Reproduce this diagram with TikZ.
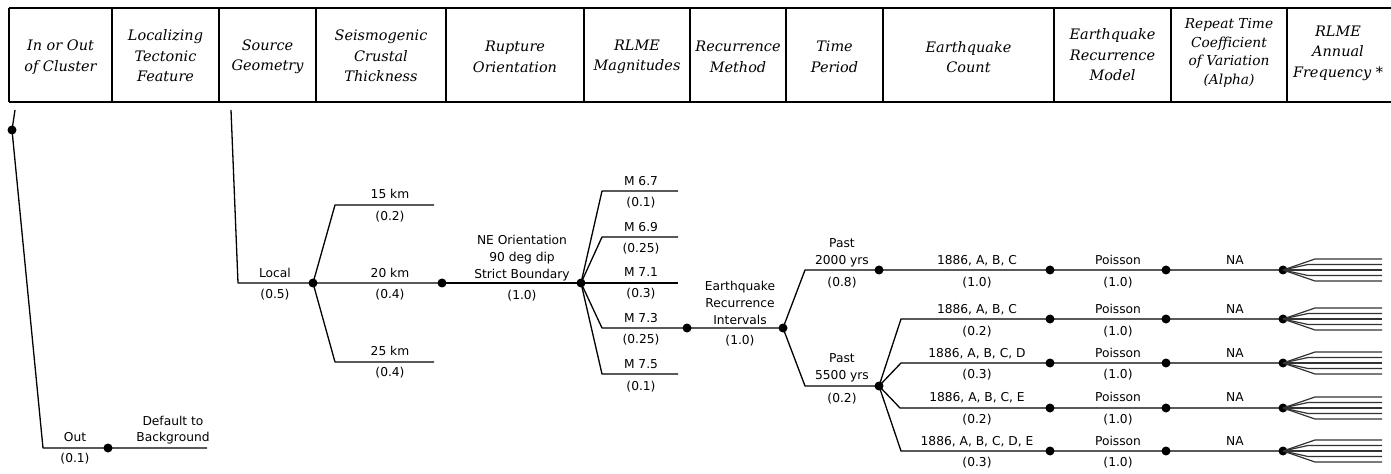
\documentclass[tikz,border=0pt]{standalone}
\usepackage{fontspec}
\setmainfont{DejaVu Serif}
\newfontfamily\lblfont{DejaVu Sans}
\begin{document}
\begin{tikzpicture}[x=1bp,y=-1bp,
  tbl/.style={line width=1.3bp},
  hdr/.style={font=\itshape\fontsize{14.5}{20.5}\selectfont, align=center, inner sep=0},
  br/.style={line width=1.3bp, line join=round},
  fan/.style={line width=1.2bp, draw=black!80},
  dotn/.style={circle, fill=black, inner sep=0, minimum size=9bp},
  lab/.style={font=\lblfont\fontsize{12.3}{16.8}\selectfont, inner sep=0, align=center, text height=9bp, text depth=2.5bp},
  mlab/.style={font=\lblfont\fontsize{12.3}{16.8}\selectfont, inner sep=0, align=center}]
\useasboundingbox (0,0) rectangle (1391,474);
% ---------- header table ----------
\draw[tbl, line width=1.6bp] (9,8) -- (1391,8);
\draw[tbl, line width=1.6bp] (9,102) -- (1391,102);
\foreach \cx in {9,112,219,316,446,584,690,786,883,1054,1171,1287}
  \draw[tbl] (\cx,8) -- (\cx,102);
\node[hdr] (h1) at (60.5,57) {In or Out\\of Cluster};
\node[hdr] (h2) at (165.5,56) {Localizing\\Tectonic\\Feature};
\node[hdr] (h3) at (267.5,57) {Source\\Geometry};
\node[hdr] (h4) at (381,56) {Seismogenic\\Crustal\\Thickness};
\node[hdr] (h5) at (515,57) {Rupture\\Orientation};
\node[hdr] (h6) at (637,57) {RLME\\Magnitudes};
\node[hdr] (h7) at (738,57) {Recurrence\\Method};
\node[hdr] (h8) at (834.5,57) {Time\\Period};
\node[hdr] (h9) at (968.5,57) {Earthquake\\Count};
\node[hdr] (h10) at (1112.5,55) {Earthquake\\Recurrence\\Model};
\node[hdr, font=\itshape\fontsize{13.8}{18.5}\selectfont] (h11) at (1229,53) {Repeat Time\\Coefficient\\of Variation\\(Alpha)};
\node[hdr] (h12) at (1338,53) {RLME\\Annual\\Frequency *};
% ---------- dots ----------
\node[dotn] (root) at (12,130) {};
\node[dotn] (outd) at (108,448) {};
\node[dotn] (locd) at (313,283) {};
\node[dotn] (km20) at (442,283) {};
\node[dotn] (ned) at (581,283) {};
\node[dotn] (m73) at (687,328) {};
\node[dotn] (eri) at (783,328) {};
\node[dotn] (p2000) at (879,270) {};
\node[dotn] (p5500) at (879,386) {};
\foreach \i/\yy in {1/270,2/319,3/363,4/408,5/451} {
  \node[dotn] (c\i) at (1050,\yy) {};
  \node[dotn] (q\i) at (1166,\yy) {};
  \node[dotn] (n\i) at (1283,\yy) {};
}
% ---------- free-end coordinates ----------
\coordinate (rtop) at (15,110);
\coordinate (outc) at (43,448);
\coordinate (outend) at (207,448);
\coordinate (ltop) at (231,110);
\coordinate (locc) at (238,283);
\coordinate (k15a) at (335,205); \coordinate (k15b) at (434,205);
\coordinate (k25a) at (335,362); \coordinate (k25b) at (434,362);
\coordinate (m67a) at (602,191); \coordinate (m67b) at (678,191);
\coordinate (m69a) at (602,237); \coordinate (m69b) at (678,237);
\coordinate (m71b) at (678,283);
\coordinate (m73a) at (602,328);
\coordinate (m75a) at (602,374); \coordinate (m75b) at (678,374);
\coordinate (p2a) at (805,270);
\coordinate (p5a) at (805,386);
\coordinate (r2a) at (901,319);
\coordinate (r3a) at (901,363);
\coordinate (r4a) at (900,408);
\coordinate (r5a) at (901,451);
% ---------- branches ----------
\draw[br] (rtop) -- (root.center) -- (outc) -- (outend);
\draw[br] (ltop) -- (locc) -- (km20.center);
\draw[br] (locd.center) -- (k15a) -- (k15b);
\draw[br] (locd.center) -- (k25a) -- (k25b);
\draw[br] (km20.center) -- (ned.center);
\draw[br] (ned.center) -- (m71b);
\draw[br] (ned.center) -- (m67a) -- (m67b);
\draw[br] (ned.center) -- (m69a) -- (m69b);
\draw[br] (ned.center) -- (m73a) -- (m73.center) -- (eri.center);
\draw[br] (ned.center) -- (m75a) -- (m75b);
\draw[br] (eri.center) -- (p2a) -- (p2000.center) -- (c1.center) -- (q1.center) -- (n1.center);
\draw[br] (eri.center) -- (p5a) -- (p5500.center);
\draw[br] (p5500.center) -- (r2a) -- (c2.center) -- (q2.center) -- (n2.center);
\draw[br] (p5500.center) -- (r3a) -- (c3.center) -- (q3.center) -- (n3.center);
\draw[br] (p5500.center) -- (r4a) -- (c4.center) -- (q4.center) -- (n4.center);
\draw[br] (p5500.center) -- (r5a) -- (c5.center) -- (q5.center) -- (n5.center);
% ---------- fans ----------
\foreach \i in {1,...,5} {
  \foreach \o/\bx in {-11/32,-5.5/25,0/20,5.5/25,11/32}
    \draw[fan] (n\i.center) -- ++(\bx,\o) -- ++(99-\bx,0);
}
% ---------- labels ----------
\node[lab] (lout) at (75,438) {Out};
\node[lab] (pout) at (75,459) {(0.1)};
\node[mlab] (ldef) at (173,430) {Default to\\Background};
\node[lab] (lloc) at (275,274) {Local};
\node[lab] (ploc) at (275,295) {(0.5)};
\node[lab] (l15) at (390,195) {15 km};
\node[lab] (p15) at (390,217) {(0.2)};
\node[lab] (l20) at (390,274) {20 km};
\node[lab] (p20) at (390,295) {(0.4)};
\node[lab] (l25) at (390,352) {25 km};
\node[lab] (p25) at (390,373) {(0.4)};
\node[mlab] (lne) at (522,258) {NE Orientation\\90 deg dip\\Strict Boundary};
\node[lab] (pne) at (522,296) {(1.0)};
\node[lab] (l67) at (641,182) {M 6.7};
\node[lab] (p67) at (641,203) {(0.1)};
\node[lab] (l69) at (641,228) {M 6.9};
\node[lab] (p69) at (641,249) {(0.25)};
\node[lab] (l71) at (641,273) {M 7.1};
\node[lab] (p71) at (641,294) {(0.3)};
\node[lab] (l73) at (641,319) {M 7.3};
\node[lab] (p73) at (641,340) {(0.25)};
\node[lab] (l75) at (641,365) {M 7.5};
\node[lab] (p75) at (641,387) {(0.1)};
\node[mlab] (leri) at (740,303) {Earthquake\\Recurrence\\Intervals};
\node[lab] (peri) at (740,341) {(1.0)};
\node[mlab] (l2000) at (842,253) {Past\\2000 yrs};
\node[lab] (p2k) at (842,283) {(0.8)};
\node[mlab] (l5500) at (842,368) {Past\\5500 yrs};
\node[lab] (p5k) at (842,399) {(0.2)};
\foreach \i/\ly/\py/\txt/\pr in {1/261/283/{1886, A, B, C}/(1.0),
                                 2/310/332/{1886, A, B, C}/(0.2),
                                 3/354/375/{1886, A, B, C, D}/(0.3),
                                 4/398/420/{1886, A, B, C, E}/(0.2),
                                 5/442/463/{1886, A, B, C, D, E}/(0.3)} {
  \node[lab] (lc\i) at (977,\ly) {\txt};
  \node[lab] (pc\i) at (977,\py) {\pr};
  \node[lab] (lq\i) at (1118,\ly) {Poisson};
  \node[lab] (pq\i) at (1118,\py) {(1.0)};
  \node[lab] (ln\i) at (1235,\ly) {NA};
}
\end{tikzpicture}
\end{document}
